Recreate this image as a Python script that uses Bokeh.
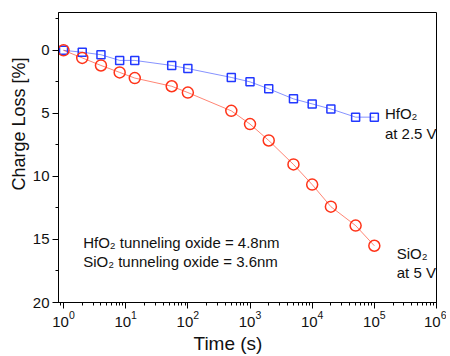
from bokeh.plotting import figure
from bokeh.models import Range1d, Label, LogTicker, FixedTicker, Title
from bokeh.embed import file_html
from bokeh.resources import INLINE

# Data
time_s = [1, 2, 4, 8, 14, 55, 100, 500, 1000, 2000, 5000, 10000, 20000, 50000, 100000]
hfo2_loss = [0.0, 0.15, 0.35, 0.8, 0.8, 1.2, 1.45, 2.15, 2.5, 3.05, 3.85, 4.25, 4.65, 5.3, 5.3]
sio2_loss = [0.0, 0.6, 1.2, 1.75, 2.2, 2.85, 3.35, 4.8, 5.85, 7.15, 9.05, 10.65, 12.4, 13.9, 15.5]
y_ticks = [0, 5, 10, 15, 20]

FONT = "Liberation Sans"
BLUE = "#2238ff"
RED = "#ff3318"

p = figure(width=446, height=355, x_axis_type="log",
           x_range=Range1d(0.83, 1e6), y_range=Range1d(20, -3),
           output_backend="svg", toolbar_location=None,
           min_border_left=58, min_border_right=10, min_border_top=12, min_border_bottom=52)

p.grid.visible = False
p.outline_line_color = "#000000"
p.outline_line_width = 1
p.background_fill_color = "white"
p.border_fill_color = "white"

# lines
p.line(time_s, hfo2_loss, line_color=BLUE, line_alpha=0.55, line_width=1)
p.line(time_s, sio2_loss, line_color=RED, line_alpha=0.6, line_width=1)
# markers
p.scatter(time_s, hfo2_loss, marker="square", size=8, fill_color=None,
          line_color=BLUE, line_width=1.5)
p.scatter(time_s, sio2_loss, marker="circle", size=11, fill_color=None,
          line_color=RED, line_width=1.5)

# axes
for ax in (p.xaxis[0], p.yaxis[0]):
    ax.axis_line_color = "black"
    ax.major_tick_line_color = "black"
    ax.minor_tick_line_color = "black"
    ax.major_label_text_font = FONT
    ax.major_label_text_font_size = "15px"
    ax.major_label_text_color = "#111111"
    ax.major_tick_out = 6
    ax.major_tick_in = 0
    ax.minor_tick_out = 3
    ax.minor_tick_in = 0
    ax.major_label_standoff = 3

p.xaxis.ticker = LogTicker(num_minor_ticks=10)
p.yaxis.ticker = FixedTicker(ticks=y_ticks, minor_ticks=[-2.5, 2.5, 7.5, 12.5, 17.5])
p.xaxis.major_label_standoff = 2

# axis titles (offset along the axis to match the reference)
p.add_layout(Title(text="Charge Loss [%]", align="left", offset=112,
                   text_font=FONT, text_font_size="18px", text_font_style="normal",
                   text_color="#111111", standoff=2), "left")
p.add_layout(Title(text="Time (s)", align="left", offset=135,
                   text_font=FONT, text_font_size="19px", text_font_style="normal",
                   text_color="#111111", standoff=3), "below")

# annotations
def note(x, y, t):
    p.add_layout(Label(x=x, y=y, text=t, text_font=FONT, text_font_size="15px",
                       text_align="left", text_baseline="alphabetic",
                       text_color="#111111"))

note(2.07, 15.25, "HfO₂ tunneling oxide = 4.8nm")
note(2.07, 16.75, "SiO₂ tunneling oxide = 3.6nm")
note(148000, 5.0, "HfO₂")
note(148000, 6.6, "at 2.5 V")
note(229000, 16.1, "SiO₂")
note(229000, 17.6, "at 5 V")

open("out.html", "w").write(file_html(p, INLINE))
